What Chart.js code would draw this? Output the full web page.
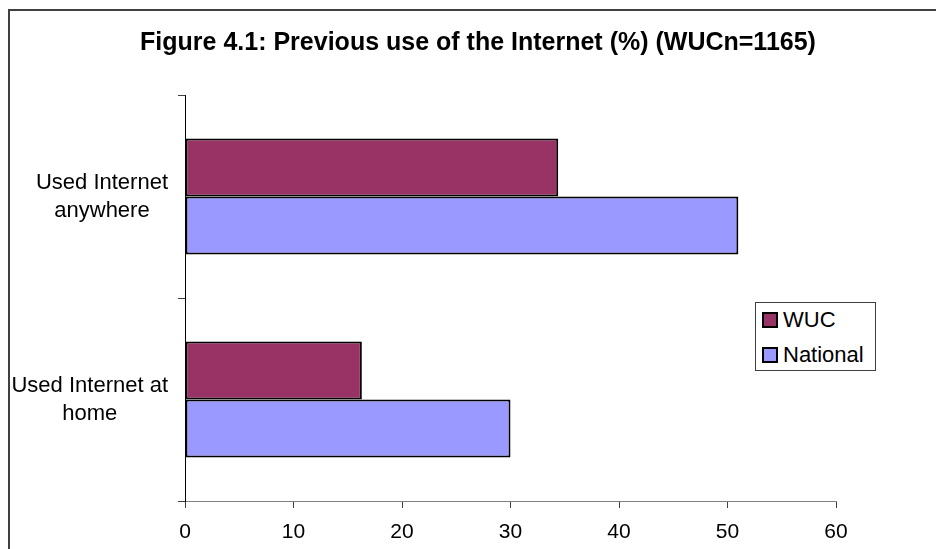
<!DOCTYPE html>
<html lang="en">
<head>
    <meta charset="UTF-8">
    <script src="https://cdn.jsdelivr.net/npm/chart.js@4.4.1/dist/chart.umd.min.js"></script>
    <title>Figure 4.1</title>
    <style>
        body { margin: 0; background: #fff; }
        .wrap { position: relative; width: 936px; height: 549px; overflow: hidden; }
        .frame { position: absolute; left: 8px; top: 9px; width: 940px; height: 560px;
                 border-left: 2px solid #404040; border-top: 2px solid #404040; }
        #legend { position: absolute; left: 755px; top: 302px; width: 119px; height: 67px;
                  border: 1px solid #404040; background: #fff;
                  font: 22px "Liberation Sans", Arial, sans-serif; color: #000; }
        .item { position: absolute; left: 6px; height: 26px; line-height: 26px; white-space: nowrap; }
        .swatch { display: inline-block; width: 12px; height: 12px; border: 2px solid #000;
                  vertical-align: -1px; margin-right: 5px; }
    </style>
</head>
<body>
<div class="wrap">
    <div class="frame"></div>
    <canvas id="chart" width="936" height="549"></canvas>
    <div id="legend"></div>
</div>
<script>
    const categories = [["Used Internet", "anywhere"], ["Used Internet at", "home"]];
    const seriesNames = ["WUC", "National"];
    const wucValues = [34.4, 16.3];
    const nationalValues = [51.0, 30.0];
    const xTicks = [0, 10, 20, 30, 40, 50, 60];
    const colors = ["#993366", "#9999ff"];

    const font = '"Liberation Sans", Arial, sans-serif';

    // Excel centres each category label on itself, right edge near the ticks
    const catLabels = {
        id: "catLabels",
        afterDraw(chart) {
            const scale = chart.scales.y;
            const ctx = chart.ctx;
            ctx.save();
            ctx.font = "22px " + font;
            ctx.fillStyle = "#000";
            ctx.textAlign = "center";
            ctx.textBaseline = "middle";
            categories.forEach((lines, i) => {
                const y = scale.getPixelForValue(i);
                const widest = Math.max(...lines.map(l => ctx.measureText(l).width));
                const x = scale.right - 17 - widest / 2;
                lines.forEach((l, j) => {
                    ctx.fillText(l, x, y + (j - (lines.length - 1) / 2) * 28);
                });
            });
            ctx.restore();
        }
    };

    const chart = new Chart("chart", {
        type: "bar",
        data: {
            labels: categories.map(c => c.join(" ")),
            datasets: [
                { label: seriesNames[0], data: wucValues, backgroundColor: colors[0] },
                { label: seriesNames[1], data: nationalValues, backgroundColor: colors[1] }
            ]
        },
        options: {
            indexAxis: "y",
            responsive: false,
            animation: false,
            layout: { padding: { left: 120, right: 100, top: 0, bottom: 0 } },
            datasets: {
                bar: {
                    categoryPercentage: 0.571,
                    barPercentage: 1.0,
                    borderColor: "#000",
                    borderWidth: 2,
                    borderSkipped: false
                }
            },
            plugins: {
                legend: { display: false },
                tooltip: { enabled: false },
                title: {
                    display: true,
                    text: "Figure 4.1: Previous use of the Internet (%) (WUCn=1165)",
                    color: "#000",
                    font: { family: font, size: 25, weight: "bold", lineHeight: 1.2 },
                    padding: { top: 28, bottom: 37 }
                }
            },
            scales: {
                x: {
                    min: 0,
                    max: 60,
                    afterBuildTicks: axis => { axis.ticks = xTicks.map(v => ({ value: v })); },
                    afterFit: axis => { axis.height = 48; },
                    border: { color: "#808080", width: 1 },
                    grid: { drawOnChartArea: false, tickLength: 7, tickColor: "#404040" },
                    ticks: { color: "#000", padding: 12, font: { family: font, size: 21 } }
                },
                y: {
                    afterFit: axis => { axis.width = 65; },
                    border: { color: "#000", width: 1 },
                    grid: { drawOnChartArea: false, tickLength: 7, tickColor: "#404040", offset: true },
                    ticks: { display: false }
                }
            }
        },
        plugins: [catLabels]
    });

    const legend = document.getElementById("legend");
    chart.data.datasets.forEach((ds, i) => {
        const item = document.createElement("div");
        item.className = "item";
        item.style.top = (4 + i * 35) + "px";
        item.innerHTML = '<span class="swatch" style="background:' + ds.backgroundColor + '"></span>' + ds.label;
        legend.appendChild(item);
    });
</script>
</body>
</html>
